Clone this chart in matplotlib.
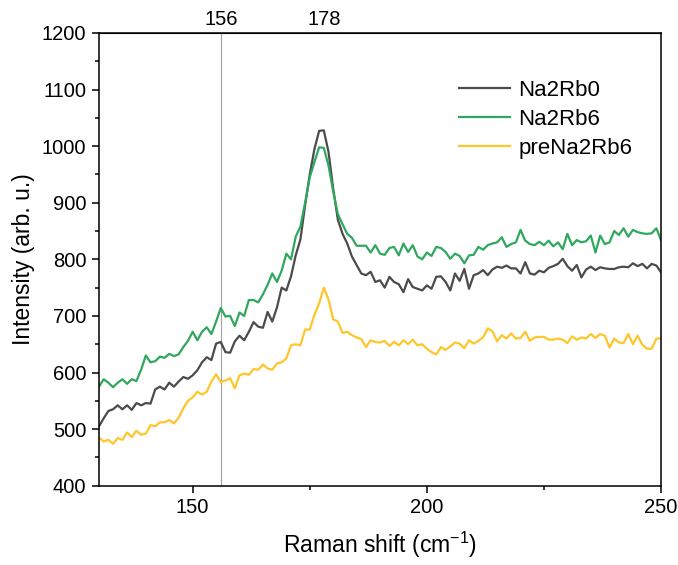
import numpy as np
from matplotlib import pyplot as plt
from matplotlib.ticker import MultipleLocator

plt.rcParams['font.family'] = ['Liberation Sans', 'DejaVu Sans']
plt.rcParams['mathtext.fontset'] = 'custom'
plt.rcParams['mathtext.rm'] = 'Liberation Sans'
plt.rcParams['mathtext.default'] = 'regular'

# Raman shift (cm-1), 1 cm-1 step
shift = np.arange(130, 251)

na2rb0 = [505, 519, 532, 535, 542, 535, 542, 534, 546, 542,
          546, 545, 570, 575, 570, 582, 575, 584, 592, 589,
          595, 604, 618, 627, 622, 651, 654, 636, 635, 655,
          665, 657, 672, 689, 681, 679, 707, 690, 715, 750,
          745, 770, 807, 835, 895, 950, 995, 1027, 1028, 990,
          925, 870, 845, 828, 805, 790, 775, 772, 778, 760,
          763, 750, 769, 760, 756, 742, 765, 751, 748, 745,
          754, 748, 769, 770, 760, 745, 775, 762, 783, 748,
          772, 775, 781, 772, 782, 787, 785, 789, 784, 784,
          775, 795, 775, 773, 780, 777, 785, 788, 792, 801,
          788, 780, 790, 768, 782, 787, 781, 786, 784, 783,
          783, 786, 787, 786, 793, 788, 792, 784, 792, 789,
          777]

na2rb6 = [575, 588, 582, 574, 582, 588, 580, 588, 585, 605,
          630, 618, 620, 628, 626, 633, 629, 632, 645, 656,
          672, 657, 672, 680, 668, 690, 714, 699, 700, 682,
          706, 700, 728, 728, 724, 738, 755, 775, 760, 780,
          810, 800, 840, 858, 900, 945, 972, 998, 997, 966,
          920, 880, 862, 845, 838, 824, 824, 824, 812, 825,
          810, 808, 820, 822, 807, 828, 813, 825, 805, 800,
          812, 806, 822, 820, 813, 801, 810, 806, 793, 807,
          808, 822, 817, 825, 828, 830, 839, 822, 827, 830,
          852, 833, 827, 825, 831, 825, 833, 823, 830, 818,
          845, 825, 834, 830, 832, 842, 812, 842, 827, 830,
          850, 843, 855, 840, 852, 848, 846, 845, 846, 855,
          834]

pre_na2rb6 = [485, 478, 481, 474, 484, 481, 494, 486, 497, 490,
              492, 507, 505, 512, 512, 516, 510, 520, 537, 550,
              556, 566, 561, 566, 584, 597, 583, 586, 590, 572,
              595, 598, 596, 606, 605, 614, 607, 605, 616, 618,
              625, 648, 650, 648, 676, 676, 702, 722, 750, 729,
              694, 690, 670, 672, 666, 662, 659, 645, 657, 654,
              653, 656, 647, 654, 648, 657, 650, 658, 648, 650,
              642, 636, 632, 645, 640, 646, 653, 651, 643, 657,
              651, 656, 662, 678, 673, 655, 666, 660, 669, 660,
              661, 672, 656, 662, 663, 663, 658, 658, 660, 658,
              652, 664, 658, 662, 660, 668, 661, 668, 665, 644,
              660, 653, 652, 668, 650, 665, 649, 642, 642, 660,
              660]

marked_peaks = [156, 178]

fig = plt.figure(figsize=(6.78, 5.65), dpi=100)
ax = fig.add_axes([0.146, 0.1404, 0.829, 0.8012])

ax.axvline(marked_peaks[0], color='#a0a0a0', lw=0.8, zorder=1)
ax.plot(shift, na2rb0, color='#4b4b4b', lw=1.6, label='Na2Rb0')
ax.plot(shift, na2rb6, color='#2fa85e', lw=1.6, label='Na2Rb6')
ax.plot(shift, pre_na2rb6, color='#ffc629', lw=1.6, label='preNa2Rb6')

ax.set_xlim(130, 250)
ax.set_ylim(400, 1200)
ax.xaxis.set_major_locator(MultipleLocator(50))
ax.xaxis.set_minor_locator(MultipleLocator(25))
ax.yaxis.set_major_locator(MultipleLocator(100))
ax.yaxis.set_minor_locator(MultipleLocator(50))
ax.tick_params(which='both', direction='out', top=False, right=False,
               labelsize=14.5, width=1.1)
ax.tick_params(which='major', length=5, pad=4)
ax.tick_params(which='minor', length=3)
for s in ax.spines.values():
    s.set_linewidth(1.1)

# top axis with the marked peak positions
top = ax.secondary_xaxis('top')
top.set_xticks(marked_peaks)
top.tick_params(length=0, labelsize=14.5, pad=3)

ax.set_xlabel('Raman shift (cm$^{-1}$)', fontsize=16.5, labelpad=9)
ax.set_ylabel('Intensity (arb. u.)', fontsize=16.5, labelpad=5)

ax.legend(loc='upper left', bbox_to_anchor=(0.641, 0.897), frameon=False,
          fontsize=16, borderpad=0, borderaxespad=0, handlelength=2.3,
          handletextpad=0.35, labelspacing=0.36)

plt.savefig('out.png')
